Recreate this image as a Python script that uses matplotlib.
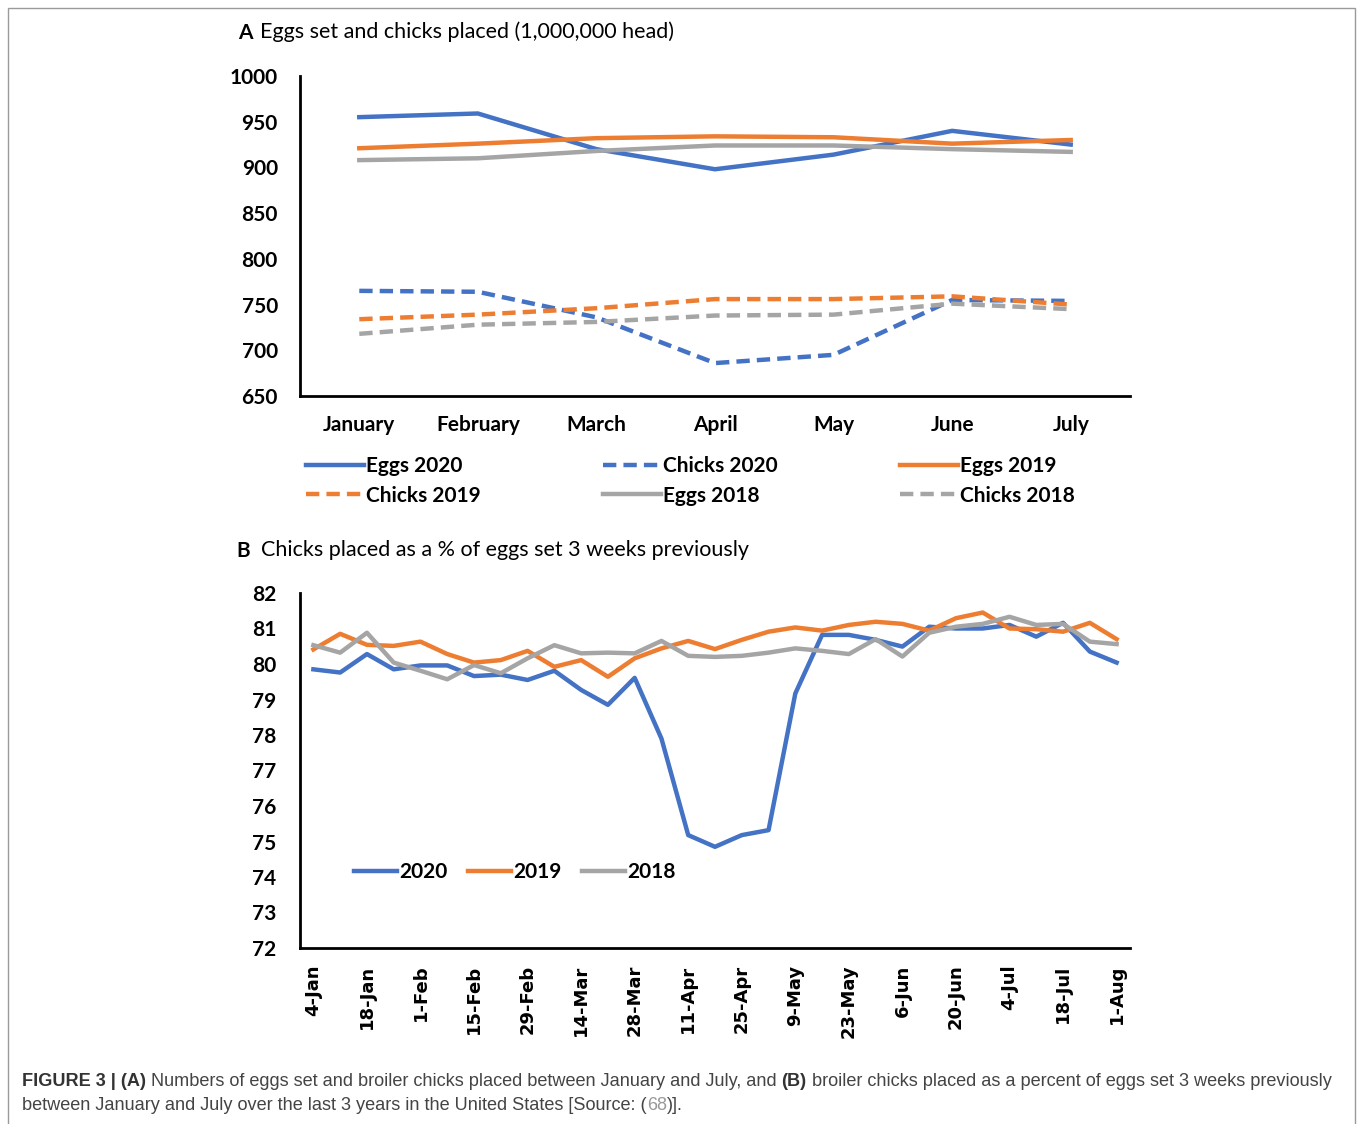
import matplotlib
matplotlib.use("Agg")
import matplotlib.pyplot as plt
from matplotlib.patches import Rectangle

# ---------------- data ----------------
months = ["January", "February", "March", "April", "May", "June", "July"]
eggs_2020 = [955, 959, 920, 898, 914, 940, 925]
eggs_2019 = [921, 926, 932, 934, 933, 926, 930]
eggs_2018 = [908, 910, 918, 924, 924, 920, 917]
chicks_2020 = [765, 764, 736, 686, 695, 755, 754]
chicks_2019 = [734, 739, 746, 756, 756, 759, 750]
chicks_2018 = [718, 728, 731, 738, 739, 751, 745]

weeks = ["4-Jan", "11-Jan", "18-Jan", "25-Jan", "1-Feb", "8-Feb", "15-Feb", "22-Feb",
         "29-Feb", "7-Mar", "14-Mar", "21-Mar", "28-Mar", "4-Apr", "11-Apr", "18-Apr",
         "25-Apr", "2-May", "9-May", "16-May", "23-May", "30-May", "6-Jun", "13-Jun",
         "20-Jun", "27-Jun", "4-Jul", "11-Jul", "18-Jul", "25-Jul", "1-Aug"]
pct_2020 = [79.85, 79.76, 80.28, 79.85, 79.96, 79.96, 79.66, 79.70, 79.55, 79.81,
            79.27, 78.85, 79.61, 77.90, 75.18, 74.85, 75.18, 75.32, 79.17, 80.82,
            80.82, 80.68, 80.49, 81.05, 81.00, 81.00, 81.10, 80.77, 81.16, 80.35, 80.04]
pct_2019 = [80.41, 80.85, 80.54, 80.51, 80.63, 80.28, 80.04, 80.11, 80.37, 79.92,
            80.11, 79.64, 80.16, 80.44, 80.65, 80.42, 80.68, 80.91, 81.03, 80.94,
            81.10, 81.19, 81.13, 80.94, 81.29, 81.45, 81.00, 80.98, 80.91, 81.16, 80.70]
pct_2018 = [80.53, 80.32, 80.88, 80.04, 79.81, 79.57, 79.97, 79.74, 80.16, 80.53,
            80.30, 80.32, 80.30, 80.65, 80.23, 80.20, 80.23, 80.32, 80.44, 80.37,
            80.28, 80.70, 80.21, 80.88, 81.05, 81.13, 81.33, 81.10, 81.13, 80.63, 80.56]

yticks_a = [650, 700, 750, 800, 850, 900, 950, 1000]
yticks_b = list(range(72, 83))

BLUE = "#4472C4"
ORANGE = "#ED7D31"
GRAY = "#A5A5A5"
FONT = "Lato"

fig = plt.figure(figsize=(13.6, 11.24), dpi=100)
W, H = 1360, 1124


def ax_rect(x0, y0, x1, y1):
    return [x0 / W, 1 - y1 / H, (x1 - x0) / W, (y1 - y0) / H]


# frame around figure
fig.patches.append(Rectangle((8 / W, -0.01), (1355 - 8) / W, 1.01 - 8 / H,
                             transform=fig.transFigure, fill=False,
                             edgecolor="#9a9a9a", linewidth=1.0))

# ---------------- Panel A ----------------
axA = fig.add_axes(ax_rect(300, 76, 1130, 396))
xa = list(range(len(months)))
lw = 3.2
dash = (0, (3, 1.6))
axA.plot(xa, eggs_2020, color=BLUE, lw=lw, label="Eggs 2020")
axA.plot(xa, chicks_2020, color=BLUE, lw=lw, ls=dash, label="Chicks 2020")
axA.plot(xa, eggs_2019, color=ORANGE, lw=lw, label="Eggs 2019")
axA.plot(xa, chicks_2019, color=ORANGE, lw=lw, ls=dash, label="Chicks 2019")
axA.plot(xa, eggs_2018, color=GRAY, lw=lw, label="Eggs 2018")
axA.plot(xa, chicks_2018, color=GRAY, lw=lw, ls=dash, label="Chicks 2018")
axA.set_xlim(-0.5, 6.5)
axA.set_ylim(650, 1000)
axA.set_yticks(yticks_a)
axA.set_yticklabels([str(v) for v in yticks_a], fontfamily=FONT, fontweight="bold", fontsize=15)
axA.set_xticks(xa)
axA.set_xticklabels(months, fontfamily=FONT, fontweight="bold", fontsize=15)
axA.tick_params(length=0, pad=14)
axA.tick_params(axis="y", pad=16)
for s in ["top", "right"]:
    axA.spines[s].set_visible(False)
axA.spines["left"].set_linewidth(2)
axA.spines["bottom"].set_linewidth(2)

# legend A (order as in reference: row-wise)
handles, labels = axA.get_legend_handles_labels()
order = [0, 3, 1, 4, 2, 5]
legA = fig.legend([handles[i] for i in order], [labels[i] for i in order],
                  ncol=3, loc="upper left", bbox_to_anchor=(296 / W, 1 - 446 / H),
                  frameon=False, prop={"family": FONT, "weight": "bold", "size": 15},
                  handlelength=2.75, handletextpad=0.1, columnspacing=5.9,
                  labelspacing=0.45, borderpad=0)

fig.text(238 / W, 1 - 33 / H, "A", fontfamily=FONT, fontweight="bold", fontsize=15,
         va="center", ha="left")
fig.text(260 / W, 1 - 32 / H, "Eggs set and chicks placed (1,000,000 head)",
         fontfamily=FONT, fontsize=15.5, va="center", ha="left")

# ---------------- Panel B ----------------
axB = fig.add_axes(ax_rect(300, 593, 1130, 948))
xb = list(range(len(weeks)))
axB.plot(xb, pct_2020, color=BLUE, lw=lw, label="2020")
axB.plot(xb, pct_2019, color=ORANGE, lw=lw, label="2019")
axB.plot(xb, pct_2018, color=GRAY, lw=lw, label="2018")
axB.set_xlim(-0.5, 30.5)
axB.set_ylim(72, 82)
axB.set_yticks(yticks_b)
axB.set_yticklabels([str(v) for v in yticks_b], fontfamily=FONT, fontweight="bold", fontsize=15)
axB.set_xticks(xb[::2])
axB.set_xticklabels(weeks[::2], rotation=90, fontfamily="DejaVu Sans",
                    fontweight="bold", fontsize=13)
axB.tick_params(length=0)
axB.tick_params(axis="y", pad=17)
axB.tick_params(axis="x", pad=12)
for s in ["top", "right"]:
    axB.spines[s].set_visible(False)
axB.spines["left"].set_linewidth(2)
axB.spines["bottom"].set_linewidth(2)
axB.legend(ncol=3, loc="center left", bbox_to_anchor=(44 / 830, (948 - 872) / 355),
           frameon=False, prop={"family": FONT, "weight": "bold", "size": 15},
           handlelength=2.05, handletextpad=0.1, columnspacing=1.0, borderpad=0)

fig.text(236 / W, 1 - 551 / H, "B", fontfamily=FONT, fontweight="bold", fontsize=15,
         va="center", ha="left")
fig.text(261 / W, 1 - 550 / H, "Chicks placed as a % of eggs set 3 weeks previously",
         fontfamily=FONT, fontsize=15.5, va="center", ha="left")

# ---------------- caption ----------------
cap_font = ["Liberation Sans", "DejaVu Sans"]
fig.canvas.draw()
renderer = fig.canvas.get_renderer()


def rich_line(x_px, y_px, pieces, size):
    x = x_px
    for txt, weight, color in pieces:
        t = fig.text(x / W, 1 - y_px / H, txt, fontfamily=cap_font, fontweight=weight,
                     fontsize=size, color=color, va="center", ha="left")
        bb = t.get_window_extent(renderer=renderer)
        x += bb.width


rich_line(22, 1081, [
    ("FIGURE 3 | (A)", "bold", "#333333"),
    (" Numbers of eggs set and broiler chicks placed between January and July, and ", "normal", "#444444"),
    ("(B)", "bold", "#333333"),
    (" broiler chicks placed as a percent of eggs set 3 weeks previously", "normal", "#444444"),
], 13.05)
rich_line(22, 1106, [
    ("between January and July over the last 3 years in the United States [Source: (", "normal", "#444444"),
    ("68", "normal", "#999999"),
    (")].", "normal", "#444444"),
], 13.05)

fig.savefig("out.png", dpi=100)
